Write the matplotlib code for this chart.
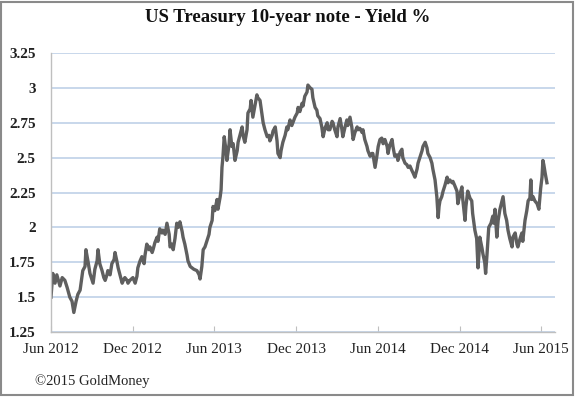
import matplotlib
matplotlib.use("Agg")
import matplotlib.pyplot as plt
import matplotlib.dates as mdates
from matplotlib.patches import Rectangle
import pandas as pd

# ---- data (days after 1 Jun 2012, yield %) ----
start_date = "2012-06-01"
day_offsets = [
    0, 4, 9, 13, 20, 25, 31, 36, 42, 47, 51, 56, 60, 65, 69, 71, 76, 78, 83, 87,
    92, 94, 98, 103, 105, 109, 114, 118, 121, 125, 127, 132, 136, 141, 143, 147, 150, 154, 159, 163,
    165, 170, 172, 176, 183, 188, 192, 194, 199, 203, 208, 210, 214, 219, 221, 226, 228, 232, 237, 239,
    243, 248, 250, 255, 259, 264, 266, 270, 273, 277, 281, 284, 288, 293, 295, 299, 304, 306, 311, 315,
    319, 326, 331, 333, 337, 340, 344, 349, 353, 355, 360, 362, 366, 371, 373, 378, 380, 382, 384, 387,
    391, 393, 398, 400, 404, 407, 411, 416, 418, 422, 427, 429, 433, 438, 440, 445, 447, 451, 456, 460,
    462, 467, 471, 474, 478, 483, 487, 489, 494, 496, 501, 505, 507, 512, 514, 518, 523, 527, 529, 534,
    538, 545, 550, 552, 556, 561, 563, 567, 572, 574, 579, 583, 585, 590, 594, 596, 601, 605, 608, 612,
    617, 619, 623, 628, 630, 634, 639, 641, 646, 650, 652, 657, 661, 663, 668, 672, 675, 679, 684, 686,
    690, 695, 697, 701, 706, 708, 713, 717, 719, 724, 728, 731, 735, 739, 742, 746, 751, 753, 757, 762,
    764, 768, 773, 775, 780, 784, 786, 791, 795, 798, 802, 806, 809, 813, 818, 820, 824, 829, 831, 836,
    840, 842, 847, 851, 853, 858, 862, 865, 867, 869, 873, 876, 880, 885, 887, 891, 896, 898, 902, 907,
    909, 914, 918, 920, 925, 927, 931, 936, 940, 942, 947, 951, 954, 956, 958, 963, 965, 969, 971, 974,
    978, 983, 987, 989, 992, 996, 999, 1003, 1007, 1010, 1014, 1018, 1021, 1025, 1030, 1032, 1037, 1041, 1043, 1048,
    1052, 1054, 1059, 1063, 1066, 1070, 1072, 1074, 1077, 1081, 1086, 1090, 1094, 1097, 1099, 1101, 1104, 1108,
]
yields = [
    1.50, 1.67, 1.60, 1.66, 1.58, 1.64, 1.62, 1.57, 1.50, 1.47, 1.39, 1.47, 1.52, 1.55, 1.64, 1.69, 1.72, 1.84, 1.75, 1.67,
    1.62, 1.60, 1.70, 1.76, 1.84, 1.74, 1.69, 1.64, 1.62, 1.66, 1.69, 1.66, 1.74, 1.77, 1.82, 1.76, 1.71, 1.66, 1.60, 1.63,
    1.64, 1.62, 1.60, 1.62, 1.64, 1.60, 1.65, 1.71, 1.76, 1.79, 1.74, 1.80, 1.88, 1.84, 1.86, 1.82, 1.84, 1.89, 1.93, 1.90,
    1.99, 1.96, 1.98, 1.95, 2.03, 1.95, 1.86, 1.88, 1.84, 1.92, 2.03, 2.00, 2.04, 1.97, 1.93, 1.88, 1.80, 1.76, 1.72, 1.71,
    1.70, 1.69, 1.66, 1.63, 1.72, 1.84, 1.86, 1.91, 1.95, 2.00, 2.05, 2.15, 2.12, 2.20, 2.13, 2.22, 2.27, 2.43, 2.50, 2.65,
    2.55, 2.48, 2.60, 2.70, 2.58, 2.60, 2.48, 2.55, 2.61, 2.66, 2.72, 2.66, 2.61, 2.70, 2.82, 2.85, 2.91, 2.79, 2.88, 2.95,
    2.93, 2.91, 2.82, 2.75, 2.70, 2.65, 2.66, 2.62, 2.66, 2.69, 2.72, 2.62, 2.53, 2.50, 2.55, 2.61, 2.66, 2.72, 2.70, 2.77,
    2.73, 2.79, 2.82, 2.86, 2.83, 2.89, 2.87, 2.94, 2.97, 3.02, 3.00, 2.99, 2.93, 2.86, 2.84, 2.80, 2.78, 2.72, 2.65, 2.71,
    2.75, 2.70, 2.70, 2.76, 2.75, 2.70, 2.65, 2.72, 2.78, 2.70, 2.65, 2.72, 2.77, 2.73, 2.79, 2.72, 2.63, 2.68, 2.72, 2.70,
    2.71, 2.68, 2.70, 2.63, 2.58, 2.55, 2.51, 2.53, 2.53, 2.43, 2.51, 2.58, 2.63, 2.64, 2.60, 2.63, 2.58, 2.53, 2.59, 2.63,
    2.58, 2.51, 2.52, 2.48, 2.54, 2.56, 2.50, 2.46, 2.45, 2.43, 2.44, 2.41, 2.39, 2.36, 2.42, 2.46, 2.50, 2.55, 2.58, 2.61,
    2.57, 2.53, 2.50, 2.46, 2.42, 2.34, 2.22, 2.07, 2.15, 2.19, 2.22, 2.26, 2.30, 2.36, 2.32, 2.34, 2.32, 2.33, 2.30, 2.26,
    2.17, 2.24, 2.29, 2.20, 2.05, 2.15, 2.26, 2.21, 2.19, 2.10, 1.98, 1.92, 1.71, 1.80, 1.93, 1.85, 1.81, 1.75, 1.67, 1.80,
    2.00, 2.03, 2.08, 2.03, 2.13, 1.93, 2.05, 2.13, 2.18, 2.22, 2.10, 2.05, 1.98, 1.92, 1.86, 1.93, 1.96, 1.88, 1.86, 1.92,
    1.96, 1.90, 2.05, 2.12, 2.19, 2.21, 2.34, 2.20, 2.22, 2.19, 2.17, 2.13, 2.28, 2.36, 2.48, 2.45, 2.39, 2.32,
]
x_tick_dates = ["2012-06-01", "2012-12-01", "2013-06-01", "2013-12-01",
                "2014-06-01", "2014-12-01", "2015-06-01"]
x_tick_labels = ["Jun 2012", "Dec 2012", "Jun 2013", "Dec 2013",
                 "Jun 2014", "Dec 2014", "Jun 2015"]
y_ticks = [1.25, 1.5, 1.75, 2.0, 2.25, 2.5, 2.75, 3.0, 3.25]
y_tick_labels = ["1.25", "1.5", "1.75", "2", "2.25", "2.5", "2.75", "3", "3.25"]
title = "US Treasury 10-year note - Yield %"
credit = "\u00a92015 GoldMoney"

dates = pd.Timestamp(start_date) + pd.to_timedelta(day_offsets, unit="D")

serif = ["Liberation Serif", "DejaVu Serif"]
plt.rcParams["font.family"] = serif

fig = plt.figure(figsize=(5.75, 3.97), dpi=100)
ax = fig.add_axes([0.0887, 0.1637, 0.8765, 0.7028])

ax.plot(dates, yields, color="#5f5f5f", lw=2.4, solid_joinstyle="round")

ax.set_ylim(1.25, 3.25)
ax.set_yticks(y_ticks)
ax.set_yticklabels(y_tick_labels, fontsize=11, fontweight="bold", color="#222222")
ax.set_xlim(pd.Timestamp("2012-06-01"), pd.Timestamp("2015-07-02"))
ax.set_xticks(pd.to_datetime(x_tick_dates))
ax.set_xticklabels(x_tick_labels, fontsize=11, color="#222222")

ax.yaxis.grid(True, color="#b9cde5", lw=1.1)
ax.set_axisbelow(True)
for s in ["top", "right"]:
    ax.spines[s].set_visible(False)
for s in ["left", "bottom"]:
    ax.spines[s].set_color("#bfbfbf")
    ax.spines[s].set_linewidth(1.0)
ax.tick_params(axis="y", length=0, pad=11)
ax.tick_params(axis="x", direction="in", length=4, color="#bfbfbf", pad=8)

fig.text(0.5, 0.955, title, ha="center", va="center", fontsize=13.5,
         fontweight="bold", color="#111111")
fig.text(0.061, 0.04, credit, ha="left", va="center", fontsize=10.5, color="#222222")

fig.patches.append(Rectangle((0.002, 0.004), 0.994, 0.992, transform=fig.transFigure,
                             fill=False, edgecolor="#8a8a8a", lw=1.5))

fig.savefig("out.png", dpi=100, facecolor="white")
